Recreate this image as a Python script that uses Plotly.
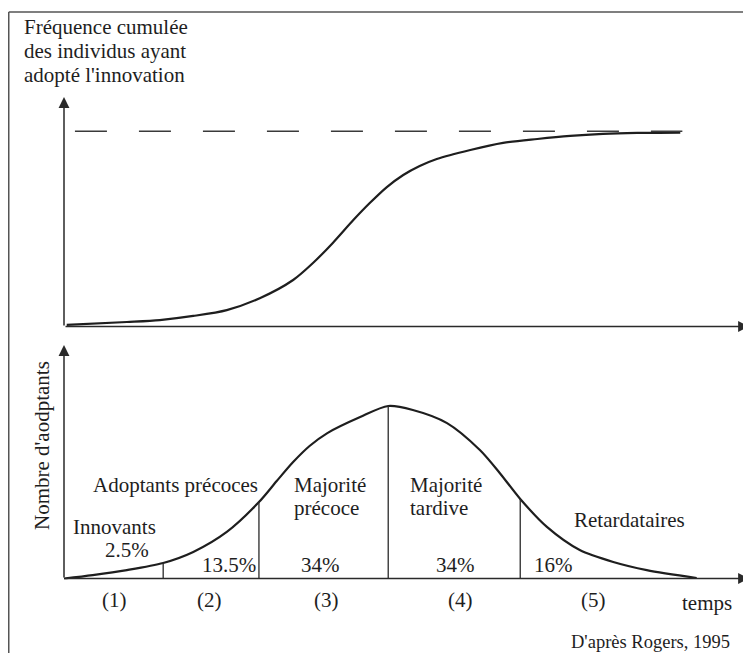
import plotly.graph_objects as go

# ---------------- data ----------------
# Upper panel : cumulative frequency of adopters (plateau = 100)
temps_cumul = [0.4, 9.2, 14.0, 18.9, 23.8, 28.7, 33.5, 36.4, 39.3, 42.3, 44.7,
               47.2, 49.6, 52.0, 54.5, 59.4, 64.2, 69.2, 74.0, 78.8, 83.8, 90.1]
freq_cumul = [0.8, 2.3, 3.3, 5.4, 8.4, 14.6, 23.8, 32.5, 42.8, 54.5, 63.2,
              71.4, 77.6, 82.2, 85.8, 90.4, 94.0, 96.0, 97.6, 98.6, 99.1, 99.3]
plateau_niveau = 100
plateau_temps = [1.6, 90.4]

# Lower panel : number of adopters (peak = 100)
temps_adopt = [0.0, 4.2, 9.2, 14.5, 18.9, 23.8, 28.5, 31.1, 33.5, 35.9, 38.5,
               43.3, 47.4, 51.0, 56.0, 60.8, 63.7, 66.7, 70.6, 75.4, 80.3,
               85.2, 92.5]
nb_adoptants = [0.0, 2.0, 4.9, 9.0, 15.4, 27.0, 44.3, 56.5, 67.5, 76.8, 84.3,
                93.6, 100.0, 97.7, 90.1, 74.5, 61.2, 46.1, 29.9, 16.5, 9.6,
                4.9, 0.3]

# boundaries between adopter categories
bornes_temps = [14.5, 28.5, 47.4, 66.7]
bornes_hauteur = [9.0, 44.3, 100.0, 46.1]

categories = ["Innovants", "Adoptants précoces", "Majorité précoce",
              "Majorité tardive", "Retardataires"]
parts = ["2.5%", "13.5%", "34%", "34%", "16%"]
periodes = ["(1)", "(2)", "(3)", "(4)", "(5)"]

titre_haut = ["Fréquence cumulée", "des individus ayant", "adopté l'innovation"]
titre_bas = "Nombre d'aodptants"
titre_x = "temps"
source = "D'après Rogers, 1995"

# ---------------- layout helpers ----------------
# the page body has an 8px margin: the figure starts at window pixel (8, 8)
OFF = 8
W, H = 751 - OFF, 653 - OFF
FONT = "Liberation Serif"
INK = "#1e1e1e"


def px(x):
    return (x - OFF) / W


def py(y):
    return 1 - (y - OFF) / H


X0, XS = 64, 6.84          # window pixel of t=0, pixels per time unit
XL, XR = 56, 750
TOP_Y0, TOP_S = 326.5, 1.953
TOP_B, TOP_T = 334, 90
BOT_Y0, BOT_S = 578.5, 1.725
BOT_B, BOT_T = 586, 340

fig = go.Figure()

# cumulative curve
fig.add_trace(go.Scatter(x=temps_cumul, y=freq_cumul, mode="lines",
                         line=dict(color=INK, width=2.2, shape="spline",
                                   smoothing=0.8),
                         xaxis="x", yaxis="y", hoverinfo="skip"))
# plateau dashed line
fig.add_trace(go.Scatter(x=plateau_temps, y=[plateau_niveau] * 2, mode="lines",
                         line=dict(color="#3a3a3a", width=1.5, dash="32px,32px"),
                         xaxis="x", yaxis="y", hoverinfo="skip"))
# adopters curve
fig.add_trace(go.Scatter(x=temps_adopt, y=nb_adoptants, mode="lines",
                         line=dict(color=INK, width=2.2, shape="spline",
                                   smoothing=0.8),
                         xaxis="x2", yaxis="y2", hoverinfo="skip"))
# category boundaries
bx, by = [], []
for t, h in zip(bornes_temps, bornes_hauteur):
    bx += [t, t, None]
    by += [0, h, None]
fig.add_trace(go.Scatter(x=bx, y=by, mode="lines",
                         line=dict(color="#2a2a2a", width=1.3),
                         xaxis="x2", yaxis="y2", hoverinfo="skip"))

xr = [(XL - X0) / XS, (XR - X0) / XS]
fig.update_layout(
    width=W, height=H, margin=dict(l=0, r=0, t=0, b=0),
    paper_bgcolor="white", plot_bgcolor="rgba(0,0,0,0)", showlegend=False,
    xaxis=dict(domain=[px(XL), px(XR)], range=xr, visible=False),
    yaxis=dict(domain=[py(TOP_B), py(TOP_T)],
               range=[(TOP_Y0 - TOP_B) / TOP_S, (TOP_Y0 - TOP_T) / TOP_S],
               visible=False),
    xaxis2=dict(domain=[px(XL), px(XR)], range=xr, visible=False, anchor="y2"),
    yaxis2=dict(domain=[py(BOT_B), py(BOT_T)],
                range=[(BOT_Y0 - BOT_B) / BOT_S, (BOT_Y0 - BOT_T) / BOT_S],
                visible=False, anchor="x2"),
)

# frame (top and left edges)
for x0, y0, x1, y1 in [(8.75, 12, 751, 12), (8.75, 12, 8.75, 653)]:
    fig.add_shape(type="line", xref="paper", yref="paper",
                  x0=px(x0), y0=py(y0), x1=px(x1), y1=py(y1),
                  line=dict(color="#555555", width=1.5))

# axes drawn as arrows
arrows = [
    (64, 97, 0, 230),       # top y axis
    (749, 326.5, -685, 0),  # top x axis
    (64, 345, 0, 234),      # bottom y axis
    (749, 578.5, -685, 0),  # bottom x axis
]
for x, y, ax, ay in arrows:
    fig.add_annotation(x=px(x), y=py(y), xref="paper", yref="paper",
                       ax=ax, ay=ay, axref="pixel", ayref="pixel",
                       text="", showarrow=True, arrowhead=2, arrowsize=1.45,
                       arrowwidth=1.5, arrowcolor="#2a2a2a", standoff=0)


def label(text, x, y, size=21, xanchor="center", angle=0):
    fig.add_annotation(x=px(x), y=py(y), xref="paper", yref="paper",
                       text=text, showarrow=False, xanchor=xanchor,
                       yanchor="middle", textangle=angle,
                       font=dict(family=FONT, size=size, color=INK))


# upper title (three lines)
for line, yc in zip(titre_haut, [27, 51.5, 75.5]):
    label(line, 22, yc, xanchor="left")

# lower y title
label(titre_bas, 42, 446, angle=-90)

# category names
label(categories[0], 114, 527)
label(categories[1], 175, 484.5)
maj1, maj2 = categories[2].split(" ")
label(maj1, 292, 484.5, xanchor="left")
label(maj2, 292, 508, xanchor="left")
maj3, maj4 = categories[3].split(" ")
label(maj3, 408, 484.5, xanchor="left")
label(maj4, 408, 508, xanchor="left")
label(categories[4], 629, 519.5)

# percentages
label(parts[0], 127, 549.5)
for txt, xc in zip(parts[1:], [229, 320, 455, 553]):
    label(txt, xc, 564.5)

# periods
for txt, xc in zip(periodes, [114, 209, 326, 460, 593]):
    label(txt, xc, 600)

label(titre_x, 707, 603)
label(source, 732, 641.5, size=18.5, xanchor="right")

fig.write_html("out.html")
